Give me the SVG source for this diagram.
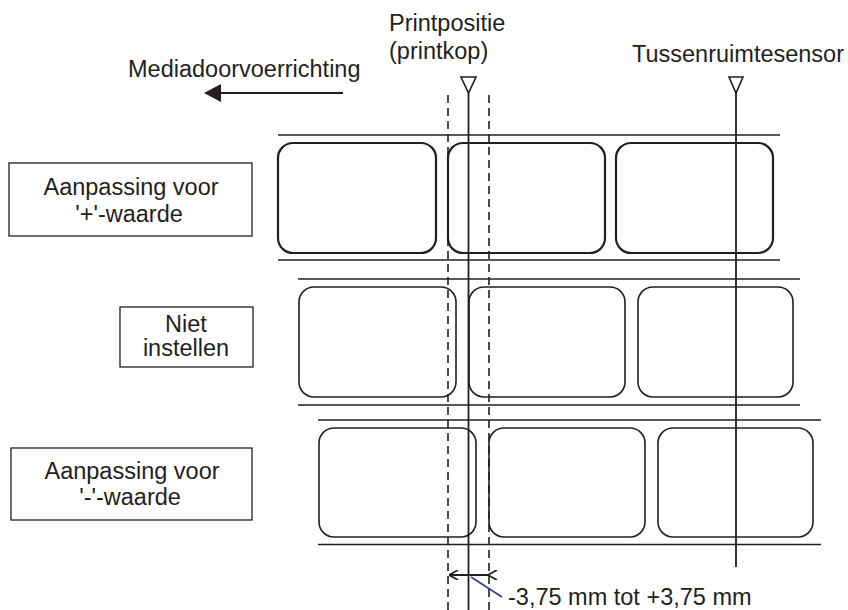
<svg xmlns="http://www.w3.org/2000/svg" width="848" height="610" viewBox="0 0 848 610">
<style>
text{font-family:"Liberation Sans",Arial,sans-serif;font-size:23.5px;fill:#231f20}
.c{text-anchor:middle}
.rail{stroke:#231f20;stroke-width:1.6;fill:none}
.lbl1{fill:none;stroke:#231f20;stroke-width:2.2}
.lbl{fill:none;stroke:#231f20;stroke-width:1.6}
.box{fill:#fff;stroke:#231f20;stroke-width:1.3}
.dash{stroke:#231f20;stroke-width:1.6;stroke-dasharray:8,5;fill:none}
.solid{stroke:#231f20;stroke-width:1.8;fill:none}
</style>
<defs>
<marker id="ah" markerWidth="10" markerHeight="10" refX="0" refY="5" orient="auto" markerUnits="userSpaceOnUse">
<path d="M0,5 L9,0 M0,5 L9,10" stroke="#231f20" stroke-width="1.8" fill="none"/>
</marker>
</defs>

<g id="media-direction">
<text x="128" y="77">Mediadoorvoerrichting</text>
<line x1="343" y1="93" x2="218" y2="93" stroke="#231f20" stroke-width="2"/>
<polygon points="204,93 221,84 221,102" fill="#231f20"/>
</g>

<g id="row1">
<line class="rail" x1="278" y1="135" x2="780" y2="135"/>
<line class="rail" x1="278" y1="260" x2="780" y2="260"/>
<rect class="lbl1" x="278" y="143" width="158" height="110" rx="15"/>
<rect class="lbl1" x="448" y="143" width="157" height="110" rx="15"/>
<rect class="lbl1" x="616" y="143" width="157" height="110" rx="15"/>
</g>

<g id="row2">
<line class="rail" x1="298" y1="279" x2="800" y2="279"/>
<line class="rail" x1="298" y1="405" x2="800" y2="405"/>
<rect class="lbl" x="299" y="287" width="157" height="110" rx="15"/>
<rect class="lbl" x="469" y="287" width="156" height="110" rx="15"/>
<rect class="lbl" x="638" y="287" width="155" height="110" rx="15"/>
</g>

<g id="row3">
<line class="rail" x1="318" y1="420" x2="821" y2="420"/>
<line class="rail" x1="318" y1="544.5" x2="821" y2="544.5" stroke-width="2.4"/>
<rect class="lbl" x="319" y="428" width="157" height="109" rx="15"/>
<rect class="lbl" x="489" y="428" width="156" height="109" rx="15"/>
<rect class="lbl" x="658" y="428" width="155" height="109" rx="15"/>
</g>

<g id="label-plus">
<rect class="box" x="9" y="163" width="243" height="73"/>
<text x="131" y="195" class="c">Aanpassing voor</text>
<text x="129" y="222" class="c">'+'-waarde</text>
</g>

<g id="label-none">
<rect class="box" x="120" y="307" width="133" height="60"/>
<text x="186" y="332" class="c">Niet</text>
<text x="186" y="356" class="c">instellen</text>
</g>

<g id="label-minus">
<rect class="box" x="11" y="448" width="241" height="72"/>
<text x="132" y="479" class="c">Aanpassing voor</text>
<text x="130" y="505" class="c">'-'-waarde</text>
</g>

<g id="print-position">
<text x="389" y="31">Printpositie</text>
<text x="389" y="59">(printkop)</text>
<polygon points="461,77 476,77 468.5,93" fill="none" stroke="#231f20" stroke-width="1.6"/>
</g>

<g id="gap-sensor">
<text x="632" y="62">Tussenruimtesensor</text>
<polygon points="729,77 743,77 736,93" fill="none" stroke="#231f20" stroke-width="1.6"/>
</g>

<g id="connectors">
<line class="solid" x1="468.5" y1="93" x2="468.5" y2="610"/>
<line class="solid" x1="736" y1="93" x2="736" y2="567"/>
<line class="dash" x1="448" y1="95" x2="448" y2="610"/>
<line class="dash" x1="489" y1="95" x2="489" y2="610"/>
<line x1="449" y1="575" x2="488" y2="575" stroke="#231f20" stroke-width="1.8" marker-start="url(#ah)" marker-end="url(#ah)"/>
<line x1="471" y1="577" x2="502" y2="597" stroke="#2b3a8f" stroke-width="1.5"/>
</g>

<g id="range-label">
<text x="508" y="605">-3,75 mm tot +3,75 mm</text>
</g>
</svg>
